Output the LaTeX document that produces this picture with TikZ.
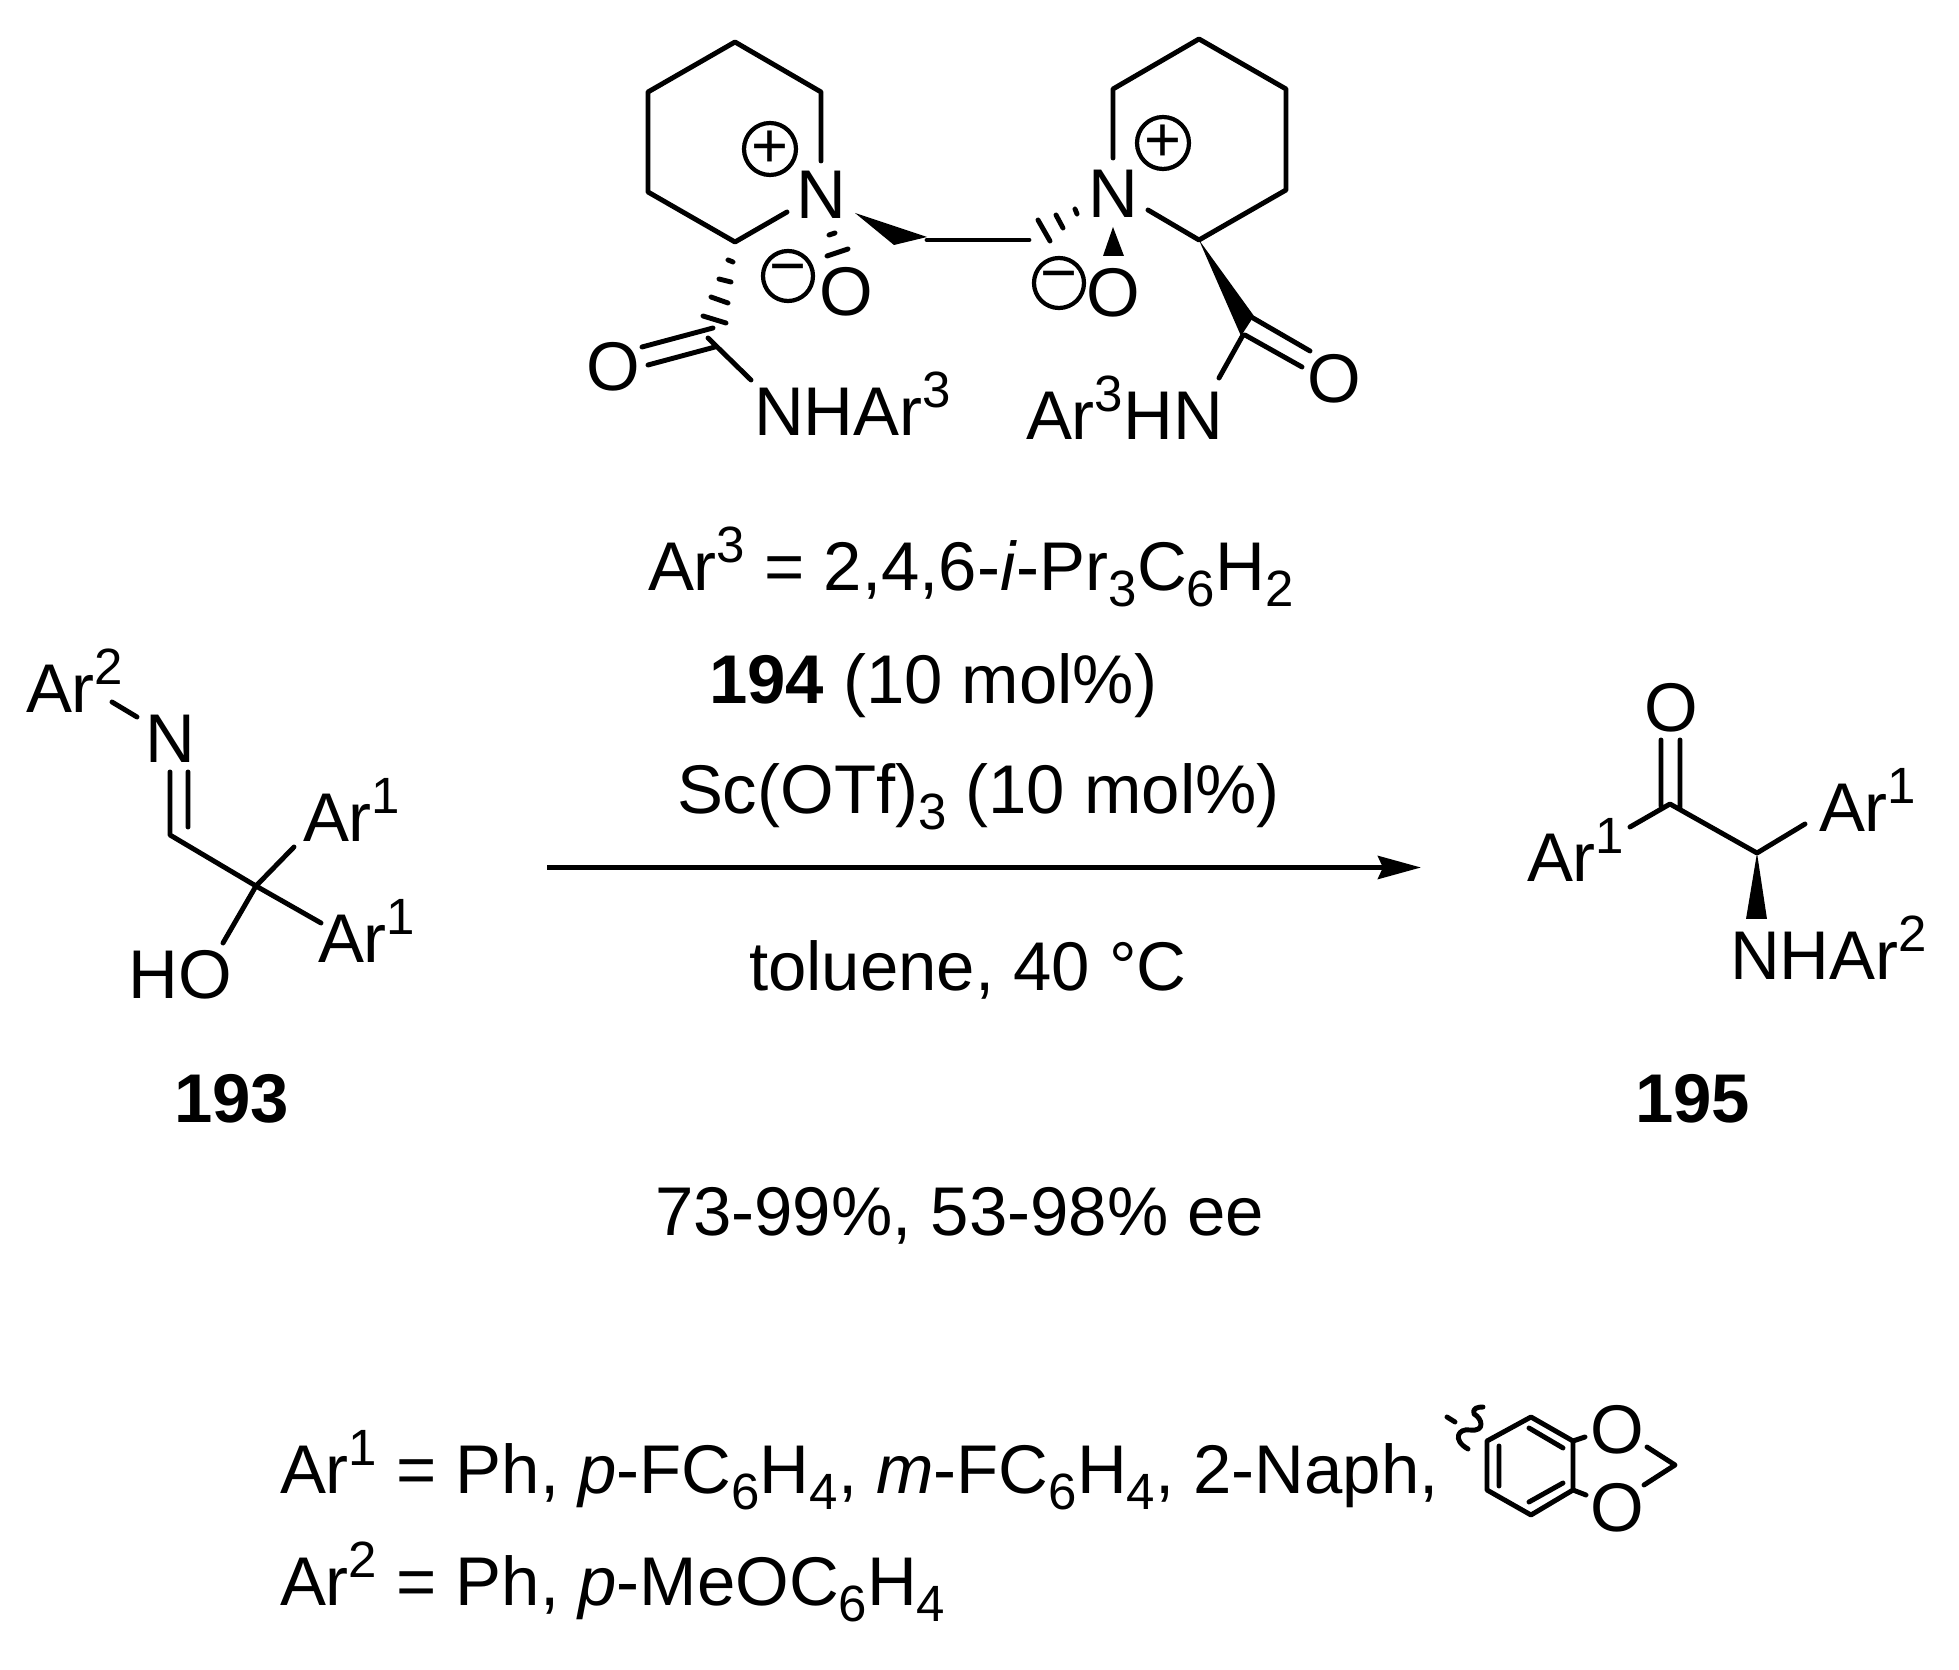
\documentclass[tikz,border=0pt]{standalone}
\usepackage{fontspec}
\setmainfont{Liberation Sans}
\usetikzlibrary{arrows.meta}
\newcommand{\supnum}[1]{\raisebox{8.2pt}{\fontsize{14.5}{14.5}\selectfont #1}}
\newcommand{\subnum}[1]{\raisebox{-4.3pt}{\fontsize{14.5}{14.5}\selectfont #1}}
\tikzset{
  lab/.style={inner sep=0pt, outer sep=0pt, anchor=base west, font=\fontsize{19.6}{24}\selectfont},
  atom/.style={inner sep=0pt, outer sep=0pt, font=\fontsize{19.6}{24}\selectfont},
  num/.style={lab, font=\fontsize{19.6}{24}\selectfont\bfseries},
  chg/.style={circle, draw, line width=1.2pt, minimum size=.5cm, inner sep=0pt, font=\fontsize{18}{18}\selectfont},
  bond/.style={line width=1.4pt, line join=round, line cap=round}
}
\begin{document}
\begin{tikzpicture}[>={Stealth[length=4.3mm,width=2.3mm,inset=.5mm]}, x=.01cm, y=-.01cm]
\useasboundingbox (0,0) rectangle (1959,1670);

% left ring
\coordinate (la) at (735,42);
\coordinate (lb) at (648,92);
\coordinate (lc) at (648,192);
\coordinate (ld) at (735,242);
\coordinate (le) at (787,212);
\coordinate (lf) at (821,161);
\coordinate (lg) at (821,92);
\node[atom] (ln) at (821,195) {N};
\node[chg] (lplus) at (770,149) {+};
\draw[bond] (le)--(ld)--(lc)--(lb)--(la)--(lg)--(lf);
\node[atom] (lo) at (846,292) {O};
\node[chg] (lminus) at (788,276) {−};
\coordinate (lw) at (855,213);
\coordinate (lwa) at (894,245);
\coordinate (lwb) at (927,237);
\fill (lw)--(lwa)--(lwb)--cycle;
\coordinate (ch) at (927,240);
\coordinate (cr) at (1029,240);
\draw[bond] (ch)--(cr);
\draw[bond] (829,235)--(835,233);
\draw[bond] (827,256)--(848,249);
% left amide
\coordinate (lco) at (708,338);
\coordinate (lnh) at (751,380);
\coordinate (loa) at (642,347);
\coordinate (lob) at (713,328);
\coordinate (loc) at (648,365);
\coordinate (lod) at (715,347);
\draw[bond] (728,260)--(733,262);
\draw[bond] (719,279)--(731,282);
\draw[bond] (711,297)--(728,303);
\draw[bond] (703,316)--(726,323);
\draw[bond] (loa)--(lob) (loc)--(lod) (lco)--(lnh);
\node[atom] (loxo) at (613,367) {O};
\node[lab] (lamide) at (754,436) {NHAr\supnum{3}};

% right ring
\coordinate (ra) at (1199,39);
\coordinate (rb) at (1113,89);
\coordinate (rc) at (1113,158);
\coordinate (rd) at (1286,89);
\coordinate (re) at (1286,190);
\coordinate (rf) at (1199,240);
\coordinate (rg) at (1148,210);
\node[atom] (rn) at (1113,194) {N};
\node[chg] (rplus) at (1163,143) {+};
\draw[bond] (rc)--(rb)--(ra)--(rd)--(re)--(rf)--(rg);
\draw[bond] (1075,209)--(1077,214);
\draw[bond] (1056,215)--(1063,228);
\draw[bond] (1038,220)--(1050,241);
\coordinate (rw) at (1113,227);
\coordinate (rwa) at (1103,256);
\coordinate (rwb) at (1124,256);
\fill (rw)--(rwa)--(rwb)--cycle;
\node[atom] (ro) at (1113,293) {O};
\node[chg] (rminus) at (1059,283) {−};
% right amide
\coordinate (rwc) at (1254,316);
\coordinate (rwd) at (1241,336);
\fill (rf)--(rwc)--(rwd)--cycle;
\coordinate (roa) at (1253,318);
\coordinate (rob) at (1310,351);
\coordinate (roc) at (1245,335);
\coordinate (rod) at (1302,367);
\coordinate (rne) at (1243,335);
\coordinate (rnh) at (1219,378);
\draw[bond] (roa)--(rob) (roc)--(rod) (rne)--(rnh);
\node[atom] (roxo) at (1334,379) {O};
\node[lab] (ramide) at (1026,440) {Ar\supnum{3}HN};

% conditions
\node[lab] (cata) at (648,591) {Ar\supnum{3} = 2,4,6-\textit{i}-Pr\subnum{3}C\subnum{6}H\subnum{2}};
\node[lab] (catb) at (709,704) {\textbf{194} (10 mol\%)};
\node[lab] (catc) at (677,814) {Sc(OTf)\subnum{3} (10 mol\%)};
\coordinate (arrowa) at (547,867.5);
\coordinate (arrowb) at (1421,867.5);
\draw[->, line width=1.4pt] (arrowa)--(arrowb);
\node[lab] (solv) at (749,991) {toluene, 40 °C};
\node[lab] (yield) at (655,1236) {73-99\%, 53-98\% ee};

% 193
\node[lab] (aa) at (26,713) {Ar\supnum{2}};
\node[lab] (an) at (145,763) {N};
\coordinate (ab) at (112,702);
\coordinate (ac) at (137,717);
\draw[bond] (ab)--(ac);
\coordinate (ad) at (170,772);
\coordinate (ae) at (170,835);
\coordinate (af) at (188,772);
\coordinate (ag) at (188,827);
\coordinate (ah) at (256,886);
\coordinate (ai) at (294,847);
\coordinate (aj) at (321,923);
\coordinate (ak) at (223,943);
\draw[bond] (ad)--(ae)--(ah)--(aj) (af)--(ag) (ai)--(ah)--(ak);
\node[lab] (al) at (303,842) {Ar\supnum{1}};
\node[lab] (am) at (318,963) {Ar\supnum{1}};
\node[lab] (ao) at (129,999) {HO};
\node[num] (anum) at (174,1123) {193};

% 195
\node[lab] (ba) at (1644,732) {O};
\coordinate (bb) at (1661,740);
\coordinate (bc) at (1661,806);
\coordinate (bd) at (1680,740);
\coordinate (be) at (1680,808);
\coordinate (bf) at (1670,804);
\coordinate (bg) at (1630,827);
\coordinate (bh) at (1757,853);
\coordinate (bi) at (1805,824);
\coordinate (bj) at (1746,919);
\coordinate (bk) at (1767,919);
\draw[bond] (bb)--(bc) (bd)--(be) (bg)--(bf)--(bh)--(bi);
\fill (bh)--(bj)--(bk)--cycle;
\node[lab] (bl) at (1527,882) {Ar\supnum{1}};
\node[lab] (bm) at (1819,832) {Ar\supnum{1}};
\node[lab] (bn) at (1730,980) {NHAr\supnum{2}};
\node[num] (bnum) at (1635,1123) {195};

% legend
\node[lab] (lega) at (280,1494) {Ar\supnum{1} = Ph, \textit{p}-FC\subnum{6}H\subnum{4}, \textit{m}-FC\subnum{6}H\subnum{4}, 2-Naph,};
\node[lab] (legb) at (280,1606) {Ar\supnum{2} = Ph, \textit{p}-MeOC\subnum{6}H\subnum{4}};
\coordinate (da) at (1531,1417);
\coordinate (db) at (1487,1441);
\coordinate (dc) at (1487,1490);
\coordinate (dd) at (1531,1515);
\coordinate (de) at (1573,1490);
\coordinate (df) at (1573,1441);
\draw[bond] (da)--(db)--(dc)--(dd)--(de)--(df)--cycle;
\draw[bond] (1529,1428)--(1563,1448) (1529,1502)--(1563,1483) (1499,1446)--(1499,1486);
\coordinate (dg) at (1585,1437);
\coordinate (dh) at (1586,1495);
\draw[bond] (df)--(dg) (de)--(dh);
\node[atom] (doa) at (1617,1430) {O};
\node[atom] (dob) at (1617,1508) {O};
\coordinate (di) at (1647,1447);
\coordinate (dj) at (1675,1465);
\coordinate (dk) at (1644,1485);
\draw[bond] (di)--(dj)--(dk);
\draw[bond] (1468,1449) .. controls (1452,1440) and (1458,1428) .. (1470,1430) .. controls (1486,1432) and (1482,1418) .. (1474,1414) .. controls (1472,1408) and (1478,1407) .. (1483,1407);
\draw[bond] (1447,1417)--(1455,1422);
\end{tikzpicture}
\end{document}
